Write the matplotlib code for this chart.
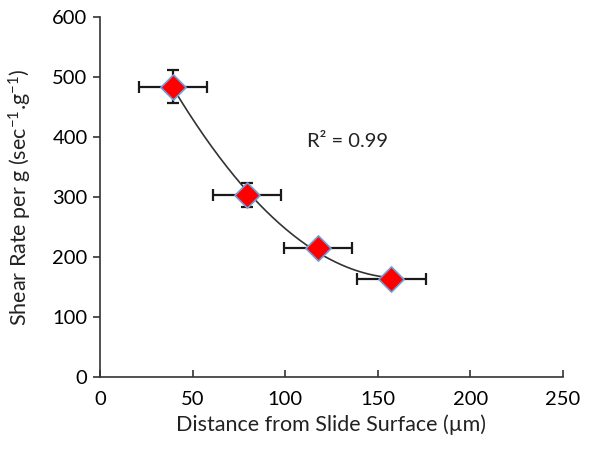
import numpy as np
import matplotlib
matplotlib.use("Agg")
import matplotlib.pyplot as plt

plt.rcParams['font.family'] = ['Lato', 'DejaVu Sans']
plt.rcParams['mathtext.default'] = 'regular'

# data
dist = [39.5, 79.3, 117.7, 157.3]
shear = [484, 303, 215, 163]
dist_err = [18.5, 18.5, 18.5, 18.5]
shear_err = [28, 20, 8, 6]
r2_label = "R² = 0.99"

fig = plt.figure(figsize=(6.04, 4.49), dpi=100)
ax = fig.add_axes([0.1656, 0.1604, 0.7664, 0.8016])

# 2nd order trendline
coef = np.polyfit(dist, shear, 2)
xs = np.linspace(min(dist), max(dist), 200)
ax.plot(xs, np.polyval(coef, xs), color="#333333", lw=1.2, zorder=2)

ax.errorbar(dist, shear, xerr=dist_err, yerr=shear_err, fmt="none",
            ecolor="#1a1a1a", elinewidth=1.6, capsize=4.5, capthick=1.6, zorder=3)
ax.scatter(dist, shear, marker="D", s=165, color="#ff0000",
           edgecolor="#6f9fd8", linewidth=1.2, zorder=4)

ax.text(112, 393, r2_label, fontsize=14.5, color="#222222", va="center")

ax.set_xlim(0, 250)
ax.set_ylim(0, 600)
ax.set_xticks(range(0, 251, 50))
ax.set_yticks(range(0, 601, 100))
ax.spines["top"].set_visible(False)
ax.spines["right"].set_visible(False)
for s in ("left", "bottom"):
    ax.spines[s].set_color("#333333")
    ax.spines[s].set_linewidth(1.2)
ax.tick_params(axis="x", direction="in", length=5, width=1.2, color="#333333", labelsize=14.5, pad=10)
ax.tick_params(axis="y", direction="out", length=5, width=1.2, color="#333333", labelsize=14.5, pad=4)
ax.set_xlabel("Distance from Slide Surface (µm)", fontsize=15.5, color="#222222", labelpad=5)
ax.set_ylabel("Shear Rate per g (sec$^{-1}$.g$^{-1}$)", fontsize=15.5, color="#222222", labelpad=13)

fig.savefig("out.png", dpi=100)
